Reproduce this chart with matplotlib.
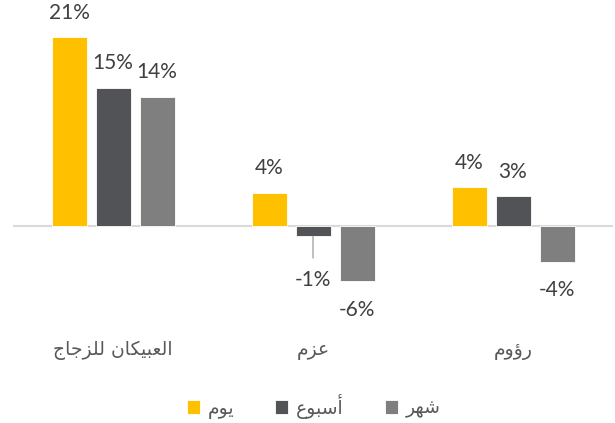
import matplotlib
matplotlib.use("Agg")
import matplotlib.pyplot as plt
import numpy as np

# data (percent)
companies = ["العبيكان للزجاج", "عزم", "رؤوم"]
series_names = ["يوم", "أسبوع", "شهر"]
day_vals = [21.0, 3.7, 4.3]
week_vals = [15.4, -1.2, 3.3]
month_vals = [14.4, -6.2, -4.0]
colors = ["#FFC000", "#525357", "#7F7F7F"]

# contextual forms: isolated, final, initial, medial
FORMS = {
    "ا": ("\uFE8D", "\uFE8E", None, None),
    "أ": ("\uFE83", "\uFE84", None, None),
    "ب": ("\uFE8F", "\uFE90", "\uFE91", "\uFE92"),
    "ج": ("\uFE9D", "\uFE9E", "\uFE9F", "\uFEA0"),
    "ر": ("\uFEAD", "\uFEAE", None, None),
    "ز": ("\uFEAF", "\uFEB0", None, None),
    "س": ("\uFEB1", "\uFEB2", "\uFEB3", "\uFEB4"),
    "ش": ("\uFEB5", "\uFEB6", "\uFEB7", "\uFEB8"),
    "ع": ("\uFEC9", "\uFECA", "\uFECB", "\uFECC"),
    "ك": ("\uFED9", "\uFEDA", "\uFEDB", "\uFEDC"),
    "ل": ("\uFEDD", "\uFEDE", "\uFEDF", "\uFEE0"),
    "م": ("\uFEE1", "\uFEE2", "\uFEE3", "\uFEE4"),
    "ن": ("\uFEE5", "\uFEE6", "\uFEE7", "\uFEE8"),
    "ه": ("\uFEE9", "\uFEEA", "\uFEEB", "\uFEEC"),
    "و": ("\uFEED", "\uFEEE", None, None),
    "ؤ": ("\uFE85", "\uFE86", None, None),
    "ي": ("\uFEF1", "\uFEF2", "\uFEF3", "\uFEF4"),
}


def shape(text):
    """Join Arabic letters and put them in visual (left-to-right) order."""
    out = []
    for i, c in enumerate(text):
        if c not in FORMS:
            out.append(c)
            continue
        f = FORMS[c]
        prev = text[i - 1] if i > 0 else None
        nxt = text[i + 1] if i + 1 < len(text) else None
        join_prev = prev in FORMS and FORMS[prev][2] is not None
        join_next = f[2] is not None and nxt in FORMS
        if join_prev and join_next:
            out.append(f[3])
        elif join_prev:
            out.append(f[1])
        elif join_next:
            out.append(f[2])
        else:
            out.append(f[0])
    return "".join(reversed(out))


W, H = 615, 423
fig = plt.figure(figsize=(W / 100, H / 100), dpi=100)
# axes in pixel terms: x 13..613, y 0..320 from top
ax = fig.add_axes([13 / W, (H - 320) / H, 600 / W, 320 / H])

px_per_unit = 8.97
zero_px = 225.7
ax.set_ylim(-(320 - zero_px) / px_per_unit, zero_px / px_per_unit)
ax.set_xlim(-0.5, 2.5)

x = np.arange(len(companies))
step = 0.22
width = 0.175
label_font = ["Lato", "DejaVu Sans"]
all_series = [day_vals, week_vals, month_vals]

for k, (vals, name, col) in enumerate(zip(all_series, series_names, colors)):
    pos = x + (k - 1) * step
    ax.bar(pos, vals, width, color=col, edgecolor="white", linewidth=0.6,
           label=shape(name), zorder=3)
    for xi, v in zip(pos, vals):
        if k == 1 and v < 0 and v > -2:
            # label moved down, with a leader line from the bar
            ax.annotate("", xy=(xi, v), xytext=(0, -15.5),
                        textcoords="offset points",
                        arrowprops=dict(arrowstyle="-", color="#A6A6A6",
                                        lw=1.0, shrinkA=0, shrinkB=0))
            ax.annotate(f"{v:.0f}%", xy=(xi, v), xytext=(0, -31),
                        textcoords="offset points", ha="center", va="center",
                        fontsize=15, color="#404040", family=label_font)
            continue
        off = 17.5 if v >= 0 else -20.5
        ax.annotate(f"{v:.0f}%", xy=(xi, v), xytext=(0, off),
                    textcoords="offset points", ha="center", va="center",
                    fontsize=15, color="#404040", family=label_font)

ax.axhline(0, color="#D9D9D9", lw=1.5, zorder=2)

for xi, name in zip(x, companies):
    ax.text(xi, -30 / 320, shape(name), transform=ax.get_xaxis_transform(),
            ha="center", va="center", fontsize=13.5, color="#595959",
            family="DejaVu Sans")

for s in ax.spines.values():
    s.set_visible(False)
ax.set_xticks([])
ax.set_yticks([])

fig.legend(loc="center", bbox_to_anchor=(313.5 / W, (H - 406) / H), ncol=3,
           frameon=False, handlelength=0.7, handleheight=0.7,
           handletextpad=0.4, columnspacing=2.2,
           prop={"family": "DejaVu Sans", "size": 13.5}, labelcolor="#595959")

fig.savefig("out.png", dpi=100)
